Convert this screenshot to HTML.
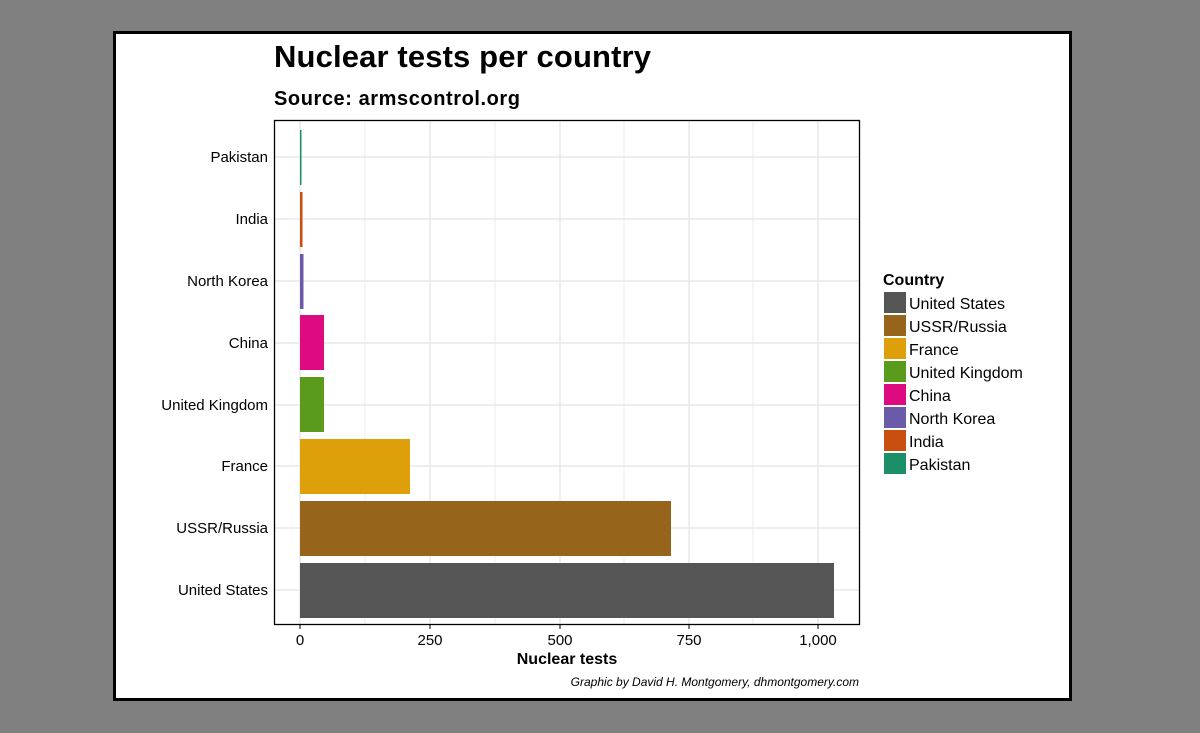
<!DOCTYPE html>
<html><head><meta charset="utf-8"><style>
body{margin:0;width:1200px;height:728px;background:#808080;overflow:hidden;font-family:"Liberation Sans",sans-serif}
</style></head><body>
<svg width="1200" height="728" xmlns="http://www.w3.org/2000/svg" font-family="Liberation Sans, sans-serif">
<rect x="0" y="0" width="1200" height="728" fill="#808080"/>
<rect x="114.5" y="32.5" width="956" height="667" fill="#fff" stroke="#000" stroke-width="3"/>
<text x="274" y="67" font-size="31" font-weight="bold" textLength="377">Nuclear tests per country</text>
<text x="274" y="105" font-size="20" font-weight="bold" textLength="246">Source: armscontrol.org</text>
<g stroke="#e8e8e8" stroke-width="1.5">
<line x1="300" y1="121" x2="300" y2="624"/><line x1="430" y1="121" x2="430" y2="624"/>
<line x1="560" y1="121" x2="560" y2="624"/><line x1="689" y1="121" x2="689" y2="624"/><line x1="818" y1="121" x2="818" y2="624"/>
<g stroke-width="0.8"><line x1="365" y1="121" x2="365" y2="624"/><line x1="495" y1="121" x2="495" y2="624"/><line x1="624" y1="121" x2="624" y2="624"/><line x1="753" y1="121" x2="753" y2="624"/></g>
<line x1="275" y1="157" x2="860" y2="157"/><line x1="275" y1="219" x2="860" y2="219"/><line x1="275" y1="281" x2="860" y2="281"/><line x1="275" y1="343" x2="860" y2="343"/><line x1="275" y1="405" x2="860" y2="405"/><line x1="275" y1="466" x2="860" y2="466"/><line x1="275" y1="528" x2="860" y2="528"/><line x1="275" y1="590" x2="860" y2="590"/>
</g>
<rect x="300" y="130" width="1.5" height="55" fill="#1b9068"/>
<rect x="300" y="192" width="2.5" height="55" fill="#c94f0e"/>
<rect x="300" y="254" width="3.5" height="55" fill="#6a5aa8"/>
<rect x="300" y="315" width="24" height="55" fill="#de0a7f"/>
<rect x="300" y="377" width="24" height="55" fill="#5a9a1c"/>
<rect x="300" y="439" width="110" height="55" fill="#dea00a"/>
<rect x="300" y="501" width="371" height="55" fill="#96651b"/>
<rect x="300" y="563" width="534" height="55" fill="#555"/>
<rect x="274.5" y="120.5" width="585" height="504" fill="none" stroke="#000" stroke-width="1.3"/>
<g font-size="15" text-anchor="end" fill="#000">
<text x="268" y="162">Pakistan</text><text x="268" y="224">India</text><text x="268" y="286">North Korea</text><text x="268" y="348">China</text><text x="268" y="410">United Kingdom</text><text x="268" y="471">France</text><text x="268" y="533">USSR/Russia</text><text x="268" y="595">United States</text>
</g>
<g stroke="#000"><line x1="300" y1="625" x2="300" y2="629"/><line x1="430" y1="625" x2="430" y2="629"/><line x1="560" y1="625" x2="560" y2="629"/><line x1="689" y1="625" x2="689" y2="629"/><line x1="818" y1="625" x2="818" y2="629"/></g>
<g font-size="15" text-anchor="middle"><text x="300" y="645">0</text><text x="430" y="645">250</text><text x="560" y="645">500</text><text x="689" y="645">750</text><text x="818" y="645">1,000</text></g>
<text x="567" y="664" font-size="16" font-weight="bold" text-anchor="middle">Nuclear tests</text>
<text x="859" y="686" font-size="12" font-style="italic" text-anchor="end">Graphic by David H. Montgomery, dhmontgomery.com</text>
<text x="883" y="285" font-size="16" font-weight="bold">Country</text>
<g font-size="16">
<rect x="884" y="292" width="22" height="21" fill="#555"/><text x="909" y="309">United States</text>
<rect x="884" y="315" width="22" height="21" fill="#96651b"/><text x="909" y="332">USSR/Russia</text>
<rect x="884" y="338" width="22" height="21" fill="#dea00a"/><text x="909" y="355">France</text>
<rect x="884" y="361" width="22" height="21" fill="#5a9a1c"/><text x="909" y="378">United Kingdom</text>
<rect x="884" y="384" width="22" height="21" fill="#de0a7f"/><text x="909" y="401">China</text>
<rect x="884" y="407" width="22" height="21" fill="#6a5aa8"/><text x="909" y="424">North Korea</text>
<rect x="884" y="430" width="22" height="21" fill="#c94f0e"/><text x="909" y="447">India</text>
<rect x="884" y="453" width="22" height="21" fill="#1b9068"/><text x="909" y="470">Pakistan</text>
</g>
</svg>
</body></html>
